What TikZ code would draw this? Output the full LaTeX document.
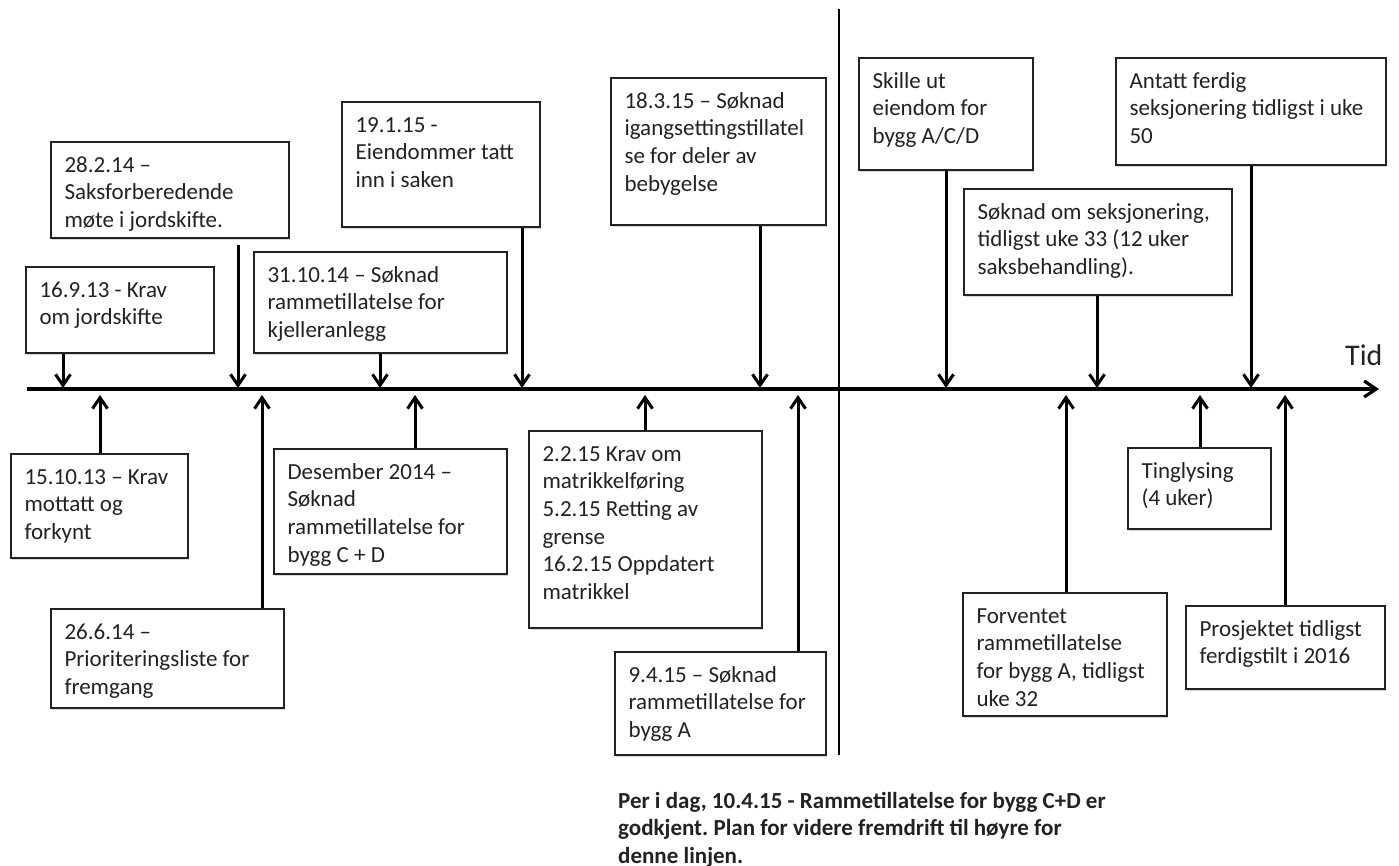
\documentclass[tikz,border=0pt]{standalone}
\usepackage{fontspec}
\setmainfont{Carlito}
\usetikzlibrary{arrows.meta,fit,shadows,calc}
\definecolor{ink}{HTML}{222222}
\frenchspacing
\tikzset{
  evbox/.style={draw=ink, line width=1.3pt, fill=white, inner sep=0pt,
    drop shadow={shadow xshift=1.3pt, shadow yshift=-1.6pt, opacity=0.3}},
  evtext/.style={anchor=base west, inner sep=0pt, text=ink,
    font=\fontsize{23}{27.6}\selectfont},
  evarrow/.style={draw=black, line width=3pt, -{Straight Barb[length=11pt,width=15pt]}},
  axisline/.style={draw=black, line width=3.2pt, -{Straight Barb[length=12pt,width=16pt]}},
  divider/.style={draw=black, line width=2.6pt},
}
\newcommand\eventbox[6]{%
  \node[evbox, fit={(#2,#3) (#4,#5)}] (#1) {};
  \node[evtext] (#1t) at ([xshift=14pt,yshift=-31pt]#1.north west)
    {\begin{tabular}[t]{@{}l@{}}#6\end{tabular}};}
\begin{document}
\begin{tikzpicture}[x=1pt,y=-1pt]
\fill[white] (0,0) rectangle (1399,866);
\useasboundingbox (0,0) rectangle (1399,866);

% axis and divider
\coordinate (ax0) at (27,389);
\coordinate (ax1) at (1379,389);
\draw[axisline] (ax0) -- (ax1);
\coordinate (dv0) at (839,9);
\coordinate (dv1) at (839,755);
\draw[divider] (dv0) -- (dv1);
\node[anchor=base west, inner sep=0pt, text=ink, font=\fontsize{30}{36}\selectfont] (tid) at (1345,365) {Tid};

% boxes above the axis
\eventbox{A}{26}{267}{214}{353}{16.9.13 - Krav\\om jordskifte}
\eventbox{B}{51}{142}{289}{238}{28.2.14 –\\Saksforberedende\\møte i jordskifte.}
\eventbox{C}{254}{252}{507}{353}{31.10.14 – Søknad\\rammetillatelse for\\kjelleranlegg}
\eventbox{D}{342}{102}{540}{227}{19.1.15 -\\Eiendommer tatt\\inn i saken}
\eventbox{E}{611}{78}{826}{225}{18.3.15 – Søknad\\igangsettingstillatel\\se for deler av\\bebygelse}
\eventbox{F}{859}{58}{1033}{170}{Skille ut\\eiendom for\\bygg A/C/D}
\eventbox{G}{1116}{58}{1386}{165}{Antatt ferdig\\seksjonering tidligst i uke\\50}
\eventbox{H}{964}{189}{1232}{295}{Søknad om seksjonering,\\tidligst uke 33 (12 uker\\saksbehandling).}

% boxes below the axis
\eventbox{I}{11}{454}{188}{558}{15.10.13 – Krav\\mottatt og\\forkynt}
\eventbox{J}{51}{609}{284}{708}{26.6.14 –\\Prioriteringsliste for\\fremgang}
\eventbox{K}{274}{449}{507}{574}{Desember 2014 –\\Søknad\\rammetillatelse for\\bygg C + D}
\eventbox{L}{529}{431}{762}{628}{2.2.15 Krav om\\matrikkelføring\\5.2.15 Retting av\\grense\\16.2.15 Oppdatert\\matrikkel}
\eventbox{M}{615}{652}{826}{755}{9.4.15 – Søknad\\rammetillatelse for\\bygg A}
\eventbox{N}{963}{593}{1167}{716}{Forventet\\rammetillatelse\\for bygg A, tidligst\\uke 32}
\eventbox{O}{1128}{448}{1271}{529}{Tinglysing\\(4 uker)}
\eventbox{P}{1186}{606}{1385}{689}{Prosjektet tidligst\\ferdigstilt i 2016}

% points on the axis
\foreach \n/\x in {A/63,B/238,C/380,D/522,E/760,F/946,H/1097,G/1251}
  \coordinate (t\n) at (\x,388);
\foreach \n/\x in {I/100,J/262,K/415,L/645,M/798,N/1066,O/1200,P/1285}
  \coordinate (u\n) at (\x,395);

% arrows from above
\foreach \n in {A,C,D,E,F,H,G}
  \draw[evarrow] (\n.south -| t\n) -- (t\n);
\draw[evarrow] ([yshift=-6pt]B.south -| tB) -- (tB);
% arrows from below
\foreach \n in {I,J,K,L,M,N,O,P}
  \draw[evarrow] (\n.north -| u\n) -- (u\n);

% note
\node[anchor=base west, inner sep=0pt, text=ink, font=\bfseries\fontsize{23}{27.5}\selectfont] (note) at (618,808)
  {\begin{tabular}[t]{@{}l@{}}Per i dag, 10.4.15 - Rammetillatelse for bygg C+D er\\godkjent. Plan for videre fremdrift til høyre for\\denne linjen.\end{tabular}};
\end{tikzpicture}
\end{document}
